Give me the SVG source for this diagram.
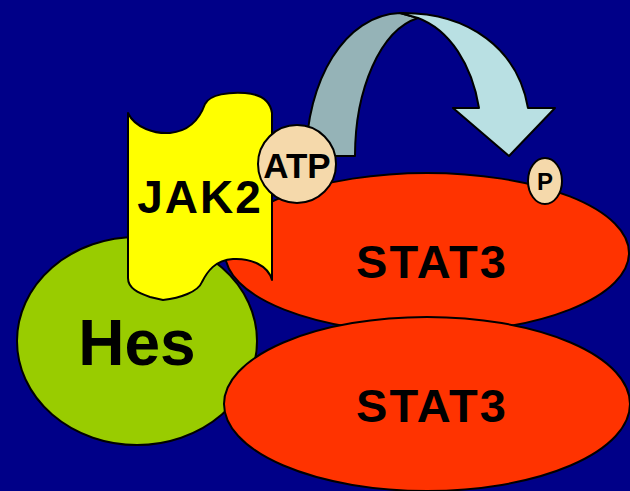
<svg xmlns="http://www.w3.org/2000/svg" width="630" height="491" viewBox="0 0 630 491">
<style>
.o{stroke:#000;stroke-width:2;stroke-linejoin:round}
.t{font-family:"Liberation Sans",Arial,sans-serif;font-weight:bold;fill:#000;text-anchor:middle}
</style>
<rect width="630" height="491" fill="#000088"/>
<g id="hes">
<ellipse class="o" cx="137" cy="341" rx="120" ry="104" fill="#99CC00"/>
<text class="t" x="137" y="365" font-size="64">Hes</text>
</g>
<g id="stat3-upper">
<ellipse class="o" cx="427" cy="253" rx="202" ry="80" fill="#FF3300"/>
<text class="t" x="432" y="278" font-size="47" letter-spacing="2">STAT3</text>
</g>
<g id="stat3-lower">
<ellipse class="o" cx="427" cy="404" rx="203" ry="87" fill="#FF3300"/>
<text class="t" x="432" y="422" font-size="47" letter-spacing="2">STAT3</text>
</g>
<g id="jak2">
<path class="o" fill="#FFFF00" d="M128,113 C135,128 155,134 170,133 C190,131 200,118 205,104 C210,94 230,92 245,93 C260,94 270,100 272,113 L272,280 C268,265 250,258 233,259 C215,260 207,272 202,282 C198,292 180,298 163,300 L150,297 C138,293 128,288 128,278 Z"/>
<text class="t" x="200" y="213" font-size="46" letter-spacing="2">JAK2</text>
</g>
<g id="connectors">
<path class="o" fill="#95B3B7" d="M306,160 C306,80 345,15 400,13 L418,18 C380,30 355,90 355,156 L306,156 Z"/>
<path class="o" fill="#B9E0E3" d="M400,13 C470,12 518,50 528,108 L555,108 L509,156 L453,108 L479,108 C472,65 450,30 418,18 Z"/>
</g>
<g id="atp">
<circle class="o" cx="297" cy="164" r="39" fill="#F5D9AB"/>
<text class="t" x="297" y="178" font-size="35">ATP</text>
</g>
<g id="p">
<ellipse class="o" cx="545" cy="181" rx="17" ry="23" fill="#F5D9AB"/>
<text class="t" x="545" y="190" font-size="24">P</text>
</g>
</svg>
